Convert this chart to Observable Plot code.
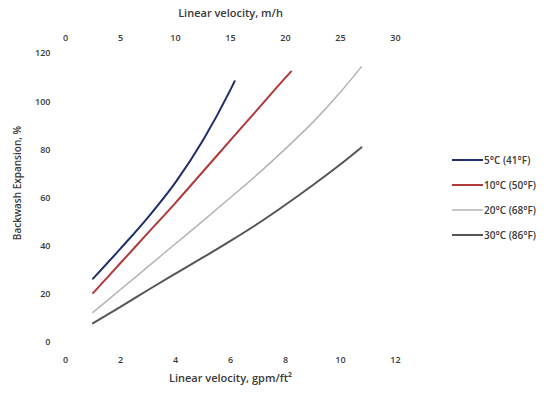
<!DOCTYPE html>
<html><head><meta charset="utf-8">
<script src="https://cdn.jsdelivr.net/npm/d3@7"></script>
<script src="https://cdn.jsdelivr.net/npm/@observablehq/plot@0.6"></script>
<style>
body{margin:0;background:#fff;font-family:"Open Sans",sans-serif;}
#wrap{position:relative;width:550px;height:394px;}
#legend{position:absolute;left:452px;top:147px;font-size:10px;font-weight:600;color:#3a3a3a;}
#legend .it{display:flex;align-items:center;height:25px;}
#legend svg{margin-right:1px;}
</style></head>
<body><div id="wrap"><div id="chart"></div><div id="legend"></div></div>
<script>
const seriesNames = ["5°C (41°F)", "10°C (50°F)", "20°C (68°F)", "30°C (86°F)"];
const seriesColors = ["#1f2f6e", "#b03a3a", "#b3b3b3", "#555555"];
const seriesWidths = [2, 2, 1.5, 2];
const x5 = [1, 2, 3, 4, 5, 6, 6.15];
const y5 = [26.5, 39, 52, 66.5, 84, 105, 108.5];
const x10 = [1, 2, 3, 4, 5, 6, 7, 8, 8.2];
const y10 = [20.5, 33, 45.5, 58, 71, 84, 97, 110, 112.5];
const x20 = [1, 2, 3, 4, 5, 6, 7, 8, 9, 10, 10.76];
const y20 = [12.5, 22, 31.5, 41, 50.5, 60.2, 70, 80.5, 91.5, 104, 114.5];
const x30 = [1, 2, 3, 4, 5, 6, 7, 8, 9, 10, 10.76];
const y30 = [8, 14.8, 21.8, 28.6, 35.3, 42.2, 49.4, 57.2, 65.4, 74, 81];
const xTicks = [0, 2, 4, 6, 8, 10, 12];
const yTicks = [0, 20, 40, 60, 80, 100, 120];
const mhPerGpm = 2.5;

const xs = [x5, x10, x20, x30], ys = [y5, y10, y20, y30];
const data = [];
xs.forEach((xa, i) => xa.forEach((x, j) => data.push({s: seriesNames[i], x, y: ys[i][j]})));

const font = "Open Sans, sans-serif";
const chart = Plot.plot({
  width: 550, height: 394,
  marginLeft: 65, marginRight: 155, marginTop: 53, marginBottom: 52,
  style: {fontFamily: font, fontSize: "9px", fontWeight: 600, color: "#3a3a3a", background: "#fff"},
  x: {domain: [0, 12]},
  y: {domain: [0, 120]},
  marks: [
    Plot.axisX({anchor: "bottom", ticks: xTicks, tickSize: 0, tickPadding: 14, label: null}),
    Plot.axisX({anchor: "top", ticks: xTicks, tickFormat: d => d * mhPerGpm, tickSize: 0, tickPadding: 13, label: null}),
    Plot.axisY({ticks: yTicks, tickSize: 0, tickPadding: 15, label: null}),
    ...seriesNames.map((n, i) => Plot.line(data.filter(d => d.s === n), {x: "x", y: "y", stroke: seriesColors[i], strokeWidth: seriesWidths[i], curve: "monotone-x"})),
    Plot.text(["Linear velocity, m/h"], {frameAnchor: "top", dy: -44, fontSize: 11, fill: "#3a3a3a"}),
    Plot.text(["Linear velocity, gpm/ft²"], {frameAnchor: "bottom", dy: 39, fontSize: 11, fill: "#3a3a3a"}),
    Plot.text(["Backwash Expansion, %"], {frameAnchor: "left", textAnchor: "middle", rotate: -90, dx: -48, dy: -15, fontSize: 10, fill: "#3a3a3a"})
  ]
});
document.getElementById("chart").appendChild(chart);

const leg = document.getElementById("legend");
seriesNames.forEach((n, i) => {
  const it = document.createElement("div");
  it.className = "it";
  it.innerHTML = `<svg width="31" height="6"><line x1="0" x2="31" y1="3" y2="3" stroke="${seriesColors[i]}" stroke-width="${seriesWidths[i]}"/></svg><span>${n}</span>`;
  leg.appendChild(it);
});
</script></body></html>
